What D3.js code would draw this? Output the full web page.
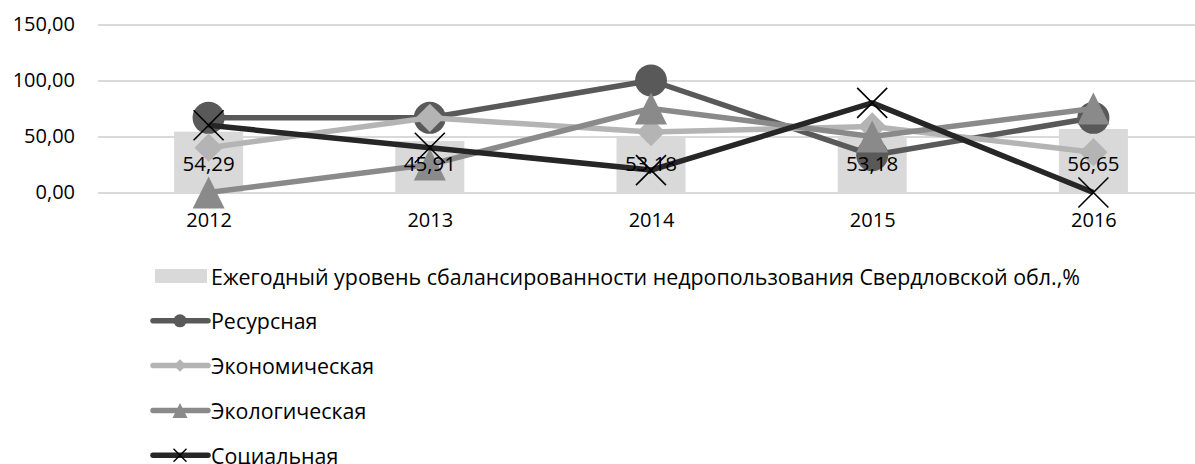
<!DOCTYPE html>
<html>
<head>
<meta charset="utf-8">
<script src="https://cdn.jsdelivr.net/npm/d3@7"></script>
<style>
    body { margin: 0; background: #fff; }
    text { font-family: "Open Sans", "Noto Sans", sans-serif; fill: #000; }
</style>
</head>
<body>
<svg id="chart" width="1195" height="464"></svg>
<script>
// data
const years = ["2012", "2013", "2014", "2015", "2016"];
const balance = [54.29, 45.91, 50.5, 50, 56.65];          // bar heights as drawn
const balanceLabels = ["54,29", "45,91", "53,18", "53,18", "56,65"];
const resource = [66.67, 66.67, 100, 33.33, 66.67];
const economic = [40, 66.67, 54, 59, 36];
const ecologic = [0, 25, 75, 50, 75];
const social = [60, 40, 20, 80, 0];
const yTicks = [0, 50, 100, 150];

const barName = "Ежегодный уровень сбалансированности недропользования Свердловской обл.,%";

// custom marker shapes (size = width^2)
const triangle = {
    draw(ctx, size) {
        const r = Math.sqrt(size) / 2;
        ctx.moveTo(0, -r);
        ctx.lineTo(r, r);
        ctx.lineTo(-r, r);
        ctx.closePath();
    }
};
const cross = {
    draw(ctx, size) {
        const r = Math.sqrt(size) / 2;
        ctx.moveTo(-r, -r);
        ctx.lineTo(r, r);
        ctx.moveTo(r, -r);
        ctx.lineTo(-r, r);
    }
};

const series = [
    { name: "Ресурсная", values: resource, color: "#595959", symbol: d3.symbolCircle, size: Math.PI * 16 * 16, legendSize: Math.PI * 6.5 * 6.5 },
    { name: "Экономическая", values: economic, color: "#b4b4b4", symbol: d3.symbolDiamond2, size: 512, legendSize: 100 },
    { name: "Экологическая", values: ecologic, color: "#8a8a8a", symbol: triangle, size: 32 * 32, legendSize: 15 * 15 },
    { name: "Социальная", values: social, color: "#262626", symbol: cross, size: 30 * 30, legendSize: 13 * 13, stroke: true }
];

const svg = d3.select("#chart");
const W = 1195;

const x = d3.scalePoint().domain(years).range([98, 1204]).padding(0.5);
const y = d3.scaleLinear().domain([0, 150]).range([192.5, 24.5]);
const barW = x.step() * 0.312;

// gridlines + y labels
svg.append("g")
    .attr("transform", "translate(98,0)")
    .call(d3.axisLeft(y).tickValues(yTicks).tickSize(-(W - 98)).tickPadding(23)
        .tickFormat(d => d.toFixed(2).replace(".", ",")))
    .call(g => g.select(".domain").remove())
    .call(g => g.selectAll(".tick line").attr("stroke", "#d9d9d9").attr("stroke-width", 2))
    .call(g => g.selectAll(".tick text").style("font-size", "20px").attr("fill", "#000"));

// x labels
svg.append("g")
    .attr("transform", "translate(0,192.5)")
    .call(d3.axisBottom(x).tickSize(0).tickPadding(20))
    .call(g => g.select(".domain").remove())
    .call(g => g.selectAll(".tick text").style("font-size", "20px").attr("fill", "#000"));

// bars
svg.append("g").selectAll("rect")
    .data(balance)
    .join("rect")
    .attr("x", (d, i) => x(years[i]) - barW / 2)
    .attr("y", d => y(d))
    .attr("width", barW)
    .attr("height", d => y(0) - y(d))
    .attr("fill", "#d9d9d9");

// lines + markers
const line = d3.line()
    .x((d, i) => x(years[i]))
    .y(d => y(d));

series.forEach(s => {
    const g = svg.append("g");
    g.append("path")
        .attr("d", line(s.values))
        .attr("fill", "none")
        .attr("stroke", s.color)
        .attr("stroke-width", 5.5)
        .attr("stroke-linejoin", "round");
    g.selectAll("path.marker")
        .data(s.values)
        .join("path")
        .attr("class", "marker")
        .attr("transform", (d, i) => `translate(${x(years[i])},${y(d)})`)
        .attr("d", d3.symbol().type(s.symbol).size(s.size))
        .attr("fill", s.stroke ? "none" : s.color)
        .attr("stroke", s.stroke ? "#000" : "none")
        .attr("stroke-width", 1.6);
});

// bar labels
svg.append("g").selectAll("text")
    .data(balanceLabels)
    .join("text")
    .attr("x", (d, i) => x(years[i]))
    .attr("y", y(0) - 29.5)
    .attr("text-anchor", "middle")
    .attr("dominant-baseline", "central")
    .style("font-size", "20.5px")
    .text(d => d);

// legend
const legend = svg.append("g");
const rowY = i => 276 + i * 44.8;

legend.append("rect")
    .attr("x", 155).attr("y", rowY(0) - 7)
    .attr("width", 52).attr("height", 14)
    .attr("fill", "#d9d9d9");
legend.append("text")
    .attr("x", 211).attr("y", rowY(0))
    .attr("dominant-baseline", "central")
    .style("font-size", "21.4px")
    .text(barName);

series.forEach((s, i) => {
    const yy = rowY(i + 1);
    legend.append("line")
        .attr("x1", 153).attr("x2", 208)
        .attr("y1", yy).attr("y2", yy)
        .attr("stroke", s.color)
        .attr("stroke-width", 5.5)
        .attr("stroke-linecap", "round");
    legend.append("path")
        .attr("transform", `translate(180,${yy})`)
        .attr("d", d3.symbol().type(s.symbol).size(s.legendSize))
        .attr("fill", s.stroke ? "none" : s.color)
        .attr("stroke", s.stroke ? "#000" : "none")
        .attr("stroke-width", 1.4);
    legend.append("text")
        .attr("x", 211).attr("y", yy)
        .attr("dominant-baseline", "central")
        .style("font-size", "21.4px")
        .text(s.name);
});
</script>
</body>
</html>
